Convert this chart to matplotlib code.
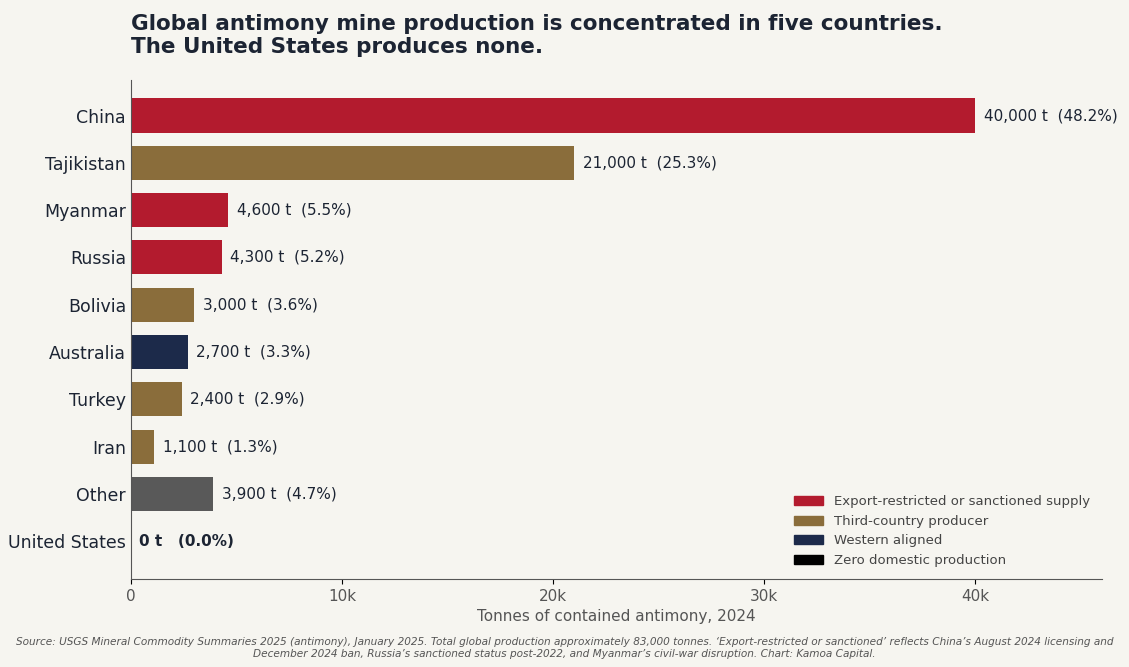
import matplotlib.pyplot as plt
from matplotlib.patches import Patch

countries = ["China","Tajikistan","Myanmar","Russia","Bolivia","Australia","Turkey","Iran","Other","United States"]
values = [40000,21000,4600,4300,3000,2700,2400,1100,3900,0]
shares = [48.2,25.3,5.5,5.2,3.6,3.3,2.9,1.3,4.7,0.0]
groups = ["r","t","r","r","t","w","t","t","o","z"]
cmap = {"r":"#B31B2E","t":"#8A6D3B","w":"#1C2A4A","o":"#595959","z":"#000000"}
bg = "#F6F5F0"; txt = "#1C2433"

fig = plt.figure(figsize=(11.29,6.67), dpi=100, facecolor=bg)
ax = fig.add_axes([0.116,0.132,0.86,0.748], facecolor=bg)
y = list(range(len(countries)))
ax.barh(y, values, height=0.72, color=[cmap[g] for g in groups])
for yi,v,s in zip(y,values,shares):
    if v == 0:
        ax.text(400, yi, f"0 t   ({s:.1f}%)", va="center", fontsize=11, fontweight="bold", color=txt)
    else:
        ax.text(v+400, yi, f"{v:,} t  ({s:.1f}%)", va="center", fontsize=11, color=txt)
ax.set_yticks(y); ax.set_yticklabels(countries, fontsize=12.5, color=txt)
ax.invert_yaxis()
ax.set_ylim(len(countries)-0.2, -0.75)
ax.set_xlim(0,46000)
ax.set_xticks([0,10000,20000,30000,40000]); ax.set_xticklabels(["0","10k","20k","30k","40k"], fontsize=11, color="#555")
ax.set_xlabel("Tonnes of contained antimony, 2024", fontsize=11, color="#555")
ax.tick_params(axis="y", length=0)
for sp in ["top","right"]: ax.spines[sp].set_visible(False)
for sp in ["left","bottom"]: ax.spines[sp].set_color("#555")
handles = [Patch(color=cmap["r"],label="Export-restricted or sanctioned supply"),
           Patch(color=cmap["t"],label="Third-country producer"),
           Patch(color=cmap["w"],label="Western aligned"),
           Patch(color=cmap["z"],label="Zero domestic production")]
leg = ax.legend(handles=handles, loc="lower right", frameon=False, fontsize=9.5, labelcolor="#444", handlelength=2.2, handleheight=0.7)
fig.text(0.116,0.915,"Global antimony mine production is concentrated in five countries.\nThe United States produces none.",
         fontsize=15.5, fontweight="bold", color=txt, va="bottom", linespacing=1.15)
fig.text(0.5,0.015,"Source: USGS Mineral Commodity Summaries 2025 (antimony), January 2025. Total global production approximately 83,000 tonnes. \u2018Export-restricted or sanctioned\u2019 reflects China\u2019s August 2024 licensing and\nDecember 2024 ban, Russia\u2019s sanctioned status post-2022, and Myanmar\u2019s civil-war disruption. Chart: Kamoa Capital.",
         ha="center", fontsize=7.6, style="italic", color="#555")
fig.savefig("out.png", dpi=100, facecolor=bg)
